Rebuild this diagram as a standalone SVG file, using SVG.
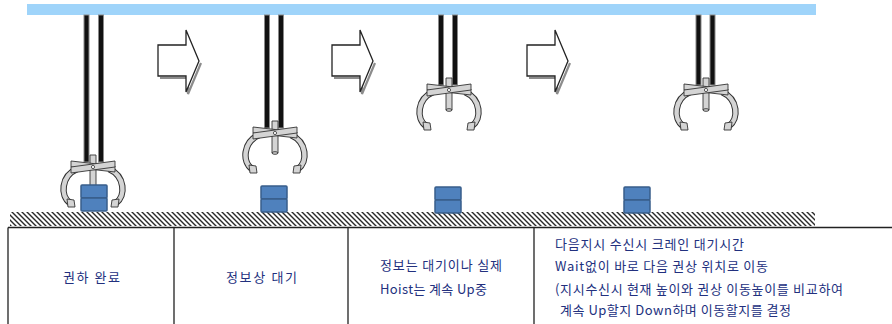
<svg xmlns="http://www.w3.org/2000/svg" xmlns:xlink="http://www.w3.org/1999/xlink" width="892" height="324" viewBox="0 0 892 324">
  <style>
    .rail { fill: #9fd4fa; }
    .rope { fill: #111; stroke: #8a8a8a; stroke-width: 1; }
    .plate { fill: #d4d4d4; stroke: #333; stroke-width: 0.9; stroke-linejoin: round; }
    .claw-out { fill: none; stroke: #333; stroke-width: 6.5; stroke-linecap: butt; }
    .claw-in { fill: none; stroke: #d4d4d4; stroke-width: 4.5; stroke-linecap: butt; }
    .box { fill: #4f81bd; stroke: #385d8a; stroke-width: 1.5; }
    .arrow { fill: #fff; stroke: #222; stroke-width: 1.3; stroke-linejoin: miter; }
    .arrow-shadow { fill: none; stroke: #8c8c8c; stroke-width: 2.2; }
    .grid { stroke: #222; stroke-width: 1.3; fill: none; }
    .label { font-family: "Noto Sans CJK KR", "Noto Sans", sans-serif; font-size: 13px; fill: #22307e; }
  </style>
  <defs>
    <pattern id="hatch" patternUnits="userSpaceOnUse" width="5" height="5">
      <rect width="5" height="5" fill="#fff"/>
      <path d="M-1,-1 L6,6 M-1,4 L1,6 M4,-1 L6,1" stroke="#2a2a2a" stroke-width="1.4"/>
    </pattern>
    <!-- gripper head, origin = top centre of the cross plates -->
    <g id="gripper">
      <!-- claws -->
      <path class="claw-out" d="M-16,9 C-32,16 -33,36 -23,43"/>
      <path class="claw-in" d="M-16,9 C-32,16 -33,36 -23,43"/>
      <path class="claw-out" d="M16,9 C32,16 33,36 23,43"/>
      <path class="claw-in" d="M16,9 C32,16 33,36 23,43"/>
      <path class="plate" d="M-26,39 L-19,40 L-18,47 L-25,47 Z"/>
      <path class="plate" d="M26,39 L19,40 L18,47 L25,47 Z"/>
      <!-- centre rod -->
      <rect class="plate" x="-3" y="-5" width="6" height="32"/>
      <ellipse class="plate" cx="0" cy="27" rx="3" ry="1.3"/>
      <!-- crossed plates -->
      <path class="plate" d="M-22,1 L22,6 L22,12 L-22,7 Z"/>
      <path class="plate" d="M-22,7 L22,1 L22,7 L-22,13 Z"/>
      <circle cx="0" cy="7" r="1.6" fill="#fff" stroke="#333" stroke-width="0.8"/>
    </g>
    <g id="block">
      <rect class="box" x="0" y="0" width="26" height="13" rx="1"/>
      <rect class="box" x="0" y="13" width="26" height="13" rx="1"/>
    </g>
    <g id="step-arrow">
      <path class="arrow-shadow" d="M2,48 H30 V64 L43,33"/>
      <path class="arrow" d="M0,15 H28 V0 L41,31 L28,62 V46 H0 Z"/>
    </g>
  </defs>

  <!-- overhead rail -->
  <rect class="rail" x="27" y="4" width="789" height="11"/>

  <!-- floor -->
  <rect x="10" y="212" width="805" height="14" fill="url(#hatch)"/>

  <!-- cranes -->
  <g id="crane-1">
    <rect class="rope" x="84" y="15" width="5" height="147"/>
    <rect class="rope" x="98.5" y="15" width="5" height="147"/>
    <use xlink:href="#gripper" x="93" y="160"/>
  </g>
  <g id="crane-2">
    <rect class="rope" x="264.5" y="15" width="5" height="113"/>
    <rect class="rope" x="278.5" y="15" width="5" height="113"/>
    <use xlink:href="#gripper" x="275" y="126"/>
  </g>
  <g id="crane-3">
    <rect class="rope" x="438.5" y="15" width="5" height="70"/>
    <rect class="rope" x="452.5" y="15" width="5" height="70"/>
    <use xlink:href="#gripper" x="449" y="83"/>
  </g>
  <g id="crane-4">
    <rect class="rope" x="696" y="15" width="5" height="70"/>
    <rect class="rope" x="710" y="15" width="5" height="70"/>
    <use xlink:href="#gripper" x="706" y="83"/>
  </g>

  <!-- loads -->
  <g id="load-1"><use xlink:href="#block" x="81" y="185"/></g>
  <g id="load-2"><use xlink:href="#block" x="261" y="186"/></g>
  <g id="load-3"><use xlink:href="#block" x="435" y="187"/></g>
  <g id="load-4"><use xlink:href="#block" x="624" y="187"/></g>

  <!-- step arrows -->
  <g id="connectors">
    <use xlink:href="#step-arrow" x="158" y="30"/>
    <use xlink:href="#step-arrow" x="332" y="30"/>
    <use xlink:href="#step-arrow" x="527" y="30"/>
  </g>

  <!-- description table -->
  <g id="table">
    <path class="grid" d="M8,227.5 H892 M8,227.5 V324 M174,227.5 V324 M348,227.5 V324 M534,227.5 V324"/>
  </g>

  <g id="cell-1">
    <text class="label" x="63" y="282" textLength="57" lengthAdjust="spacing">권하 완료</text>
  </g>
  <g id="cell-2">
    <text class="label" x="226" y="282" textLength="71" lengthAdjust="spacing">정보상 대기</text>
  </g>
  <g id="cell-3">
    <text class="label" x="380" y="270" textLength="122" lengthAdjust="spacing">정보는 대기이나 실제</text>
    <text class="label" x="380" y="294" textLength="107" lengthAdjust="spacing">Hoist는 계속 Up중</text>
  </g>
  <g id="cell-4">
    <text class="label" x="555" y="249" textLength="189" lengthAdjust="spacing">다음지시 수신시 크레인 대기시간</text>
    <text class="label" x="555" y="271" textLength="213" lengthAdjust="spacing">Wait없이 바로 다음 권상 위치로 이동</text>
    <text class="label" x="555" y="294" textLength="288" lengthAdjust="spacing">(지시수신시 현재 높이와 권상 이동높이를 비교하여</text>
    <text class="label" x="560" y="315" textLength="231" lengthAdjust="spacing">계속 Up할지 Down하며 이동할지를 결정</text>
  </g>
</svg>
